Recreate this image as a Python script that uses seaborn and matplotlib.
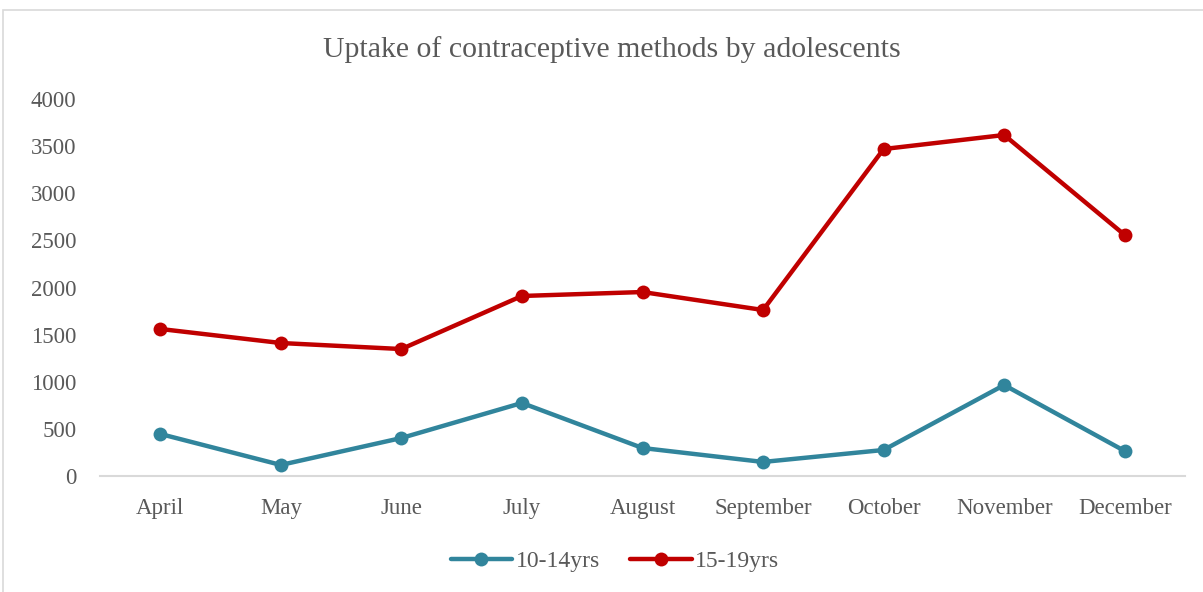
import matplotlib
matplotlib.use("Agg")
import matplotlib.pyplot as plt
import seaborn as sns
import pandas as pd
from matplotlib.patches import Rectangle
from matplotlib.lines import Line2D

months = ["April", "May", "June", "July", "August", "September", "October", "November", "December"]
series_names = ["10-14yrs", "15-19yrs"]
vals_10_14 = [446, 117, 403, 775, 297, 149, 276, 965, 265]
vals_15_19 = [1560, 1411, 1347, 1910, 1952, 1761, 3469, 3618, 2557]
yticks = [0, 500, 1000, 1500, 2000, 2500, 3000, 3500, 4000]

df = pd.DataFrame({
    "month": months * 2,
    "x": list(range(len(months))) * 2,
    "value": vals_10_14 + vals_15_19,
    "series": [series_names[0]] * len(months) + [series_names[1]] * len(months),
})

sns.set_theme(style="white")
plt.rcParams["font.family"] = ["Liberation Serif", "DejaVu Serif"]
txt = "#595959"

fig = plt.figure(figsize=(12.03, 5.92), dpi=100)
ax = fig.add_axes([100 / 1203, 1 - 476 / 592, 1085 / 1203, (476 - 99) / 592])

palette = {"10-14yrs": "#31859C", "15-19yrs": "#C00000"}
sns.lineplot(data=df, x="x", y="value", hue="series", palette=palette,
             marker="o", markersize=10, markeredgewidth=0, linewidth=3.2,
             ax=ax, legend=False)

ax.set_xlim(-0.5, len(months) - 0.5)
ax.set_ylim(0, 4000)
ax.set_xticks(range(len(months)))
ax.set_xticklabels(months)
ax.set_yticks(yticks)
ax.set_yticklabels([str(v) for v in yticks])
ax.tick_params(axis="both", length=0, labelsize=16.5, colors=txt)
ax.tick_params(axis="x", pad=16)
ax.tick_params(axis="y", pad=17)
ax.set_xlabel("")
ax.set_ylabel("")
for s in ["top", "right", "left"]:
    ax.spines[s].set_visible(False)
ax.spines["bottom"].set_color("#D9D9D9")
ax.spines["bottom"].set_linewidth(1.5)

fig.text(612 / 1203, 1 - 50 / 592, "Uptake of contraceptive methods by adolescents",
         ha="center", va="center", fontsize=21.5, color=txt)

handles = [Line2D([], [], color=palette[n], marker="o", markersize=10, markeredgewidth=0,
                  linewidth=3.2) for n in series_names]
fig.legend(handles, series_names, loc="center", bbox_to_anchor=(615 / 1203, 1 - 561 / 592),
           ncol=2, frameon=False, fontsize=17, labelcolor=txt, handlelength=2.6,
           handletextpad=0.15, columnspacing=1.3)

fig.patches.append(Rectangle((3 / 1203, -0.01), 1.1, 1 - 10 / 592 + 0.01, transform=fig.transFigure,
                             fill=False, edgecolor="#D9D9D9", linewidth=1.2))

fig.savefig("out.png", dpi=100)
